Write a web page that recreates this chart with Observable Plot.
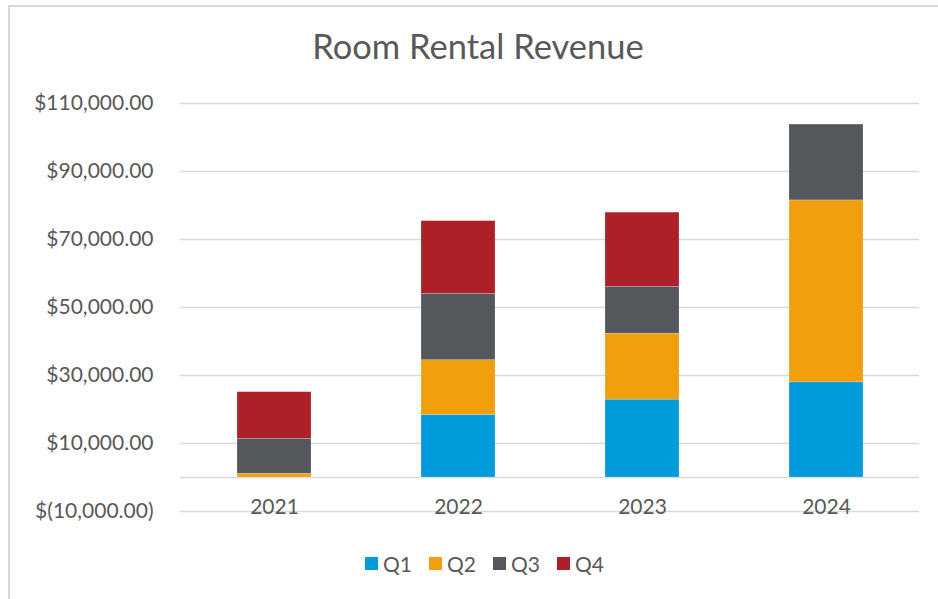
<!DOCTYPE html>
<html><head><meta charset="utf-8">
<script src="https://cdn.jsdelivr.net/npm/d3@7"></script>
<script src="https://cdn.jsdelivr.net/npm/@observablehq/plot@0.6"></script>
<style>
body{margin:0;background:#fff;font-family:Lato,sans-serif;overflow:hidden;}
#frame{position:absolute;left:8px;top:5px;width:960px;height:620px;border-left:2px solid #d9d9d9;border-top:2px solid #d9d9d9;}
#title{position:absolute;top:25px;left:0;width:956px;text-align:center;font-size:34.5px;color:#595959;white-space:nowrap;}
#chart{position:absolute;left:0;top:0;}
#legend{position:absolute;top:551px;left:365px;display:flex;font-size:21px;color:#595959;}
.item{display:flex;align-items:center;margin-right:17px;}
.sw{width:13px;height:13px;margin-right:5px;}
</style></head>
<body>
<div id="frame"></div>
<div id="chart"></div>
<div id="title">Room Rental Revenue</div>
<div id="legend"></div>
<script>
const years = ["2021", "2022", "2023", "2024"];
const quarters = ["Q1", "Q2", "Q3", "Q4"];
const q1 = [0, 18400, 22900, 28000];
const q2 = [1100, 16100, 19400, 53500];
const q3 = [10300, 19500, 13800, 22300];
const q4 = [13700, 21400, 21800, 0];
const colors = ["#009bd8", "#f19f0d", "#54575b", "#ad2027"];
const yTicks = [-10000, 10000, 30000, 50000, 70000, 90000, 110000];

const series = [q1, q2, q3, q4];
const data = quarters.flatMap((q, i) => years.map((y, j) => ({year: y, quarter: q, value: series[i][j]})));
const fmt = v => { const s = d3.format(",.2f")(Math.abs(v)); return v < 0 ? `$(${s})` : `$${s}`; };

const chart = Plot.plot({
  width: 938, height: 540,
  marginTop: 103, marginBottom: 29, marginLeft: 180, marginRight: 19,
  style: {fontFamily: "Lato, sans-serif", fontSize: "21px", color: "#595959", background: "transparent"},
  x: {domain: years, paddingInner: 0.6, paddingOuter: 0.3, axis: null},
  y: {domain: [-10000, 110000], axis: null},
  color: {domain: quarters, range: colors},
  marks: [
    Plot.ruleY(yTicks.concat([0]), {stroke: "#d9d9d9", strokeWidth: 1.4}),
    Plot.axisY(yTicks, {tickSize: 0, tickPadding: 27, tickFormat: fmt, label: null, fontSize: 21, fill: "#595959"}),
    Plot.barY(data, {x: "year", y: "value", fill: "quarter", stroke: "#ffffff", strokeOpacity: 0.35, strokeWidth: 0.6}),
    Plot.text(years, {x: d => d, y: () => -10000, dy: -4, fontSize: 21, fill: "#595959"})
  ]
});
document.getElementById("chart").appendChild(chart);

const legend = document.getElementById("legend");
quarters.forEach((q, i) => {
  const it = document.createElement("div");
  it.className = "item";
  const sw = document.createElement("div");
  sw.className = "sw";
  sw.style.background = colors[i];
  const t = document.createElement("span");
  t.textContent = q;
  it.appendChild(sw); it.appendChild(t);
  legend.appendChild(it);
});
</script>
</body></html>
